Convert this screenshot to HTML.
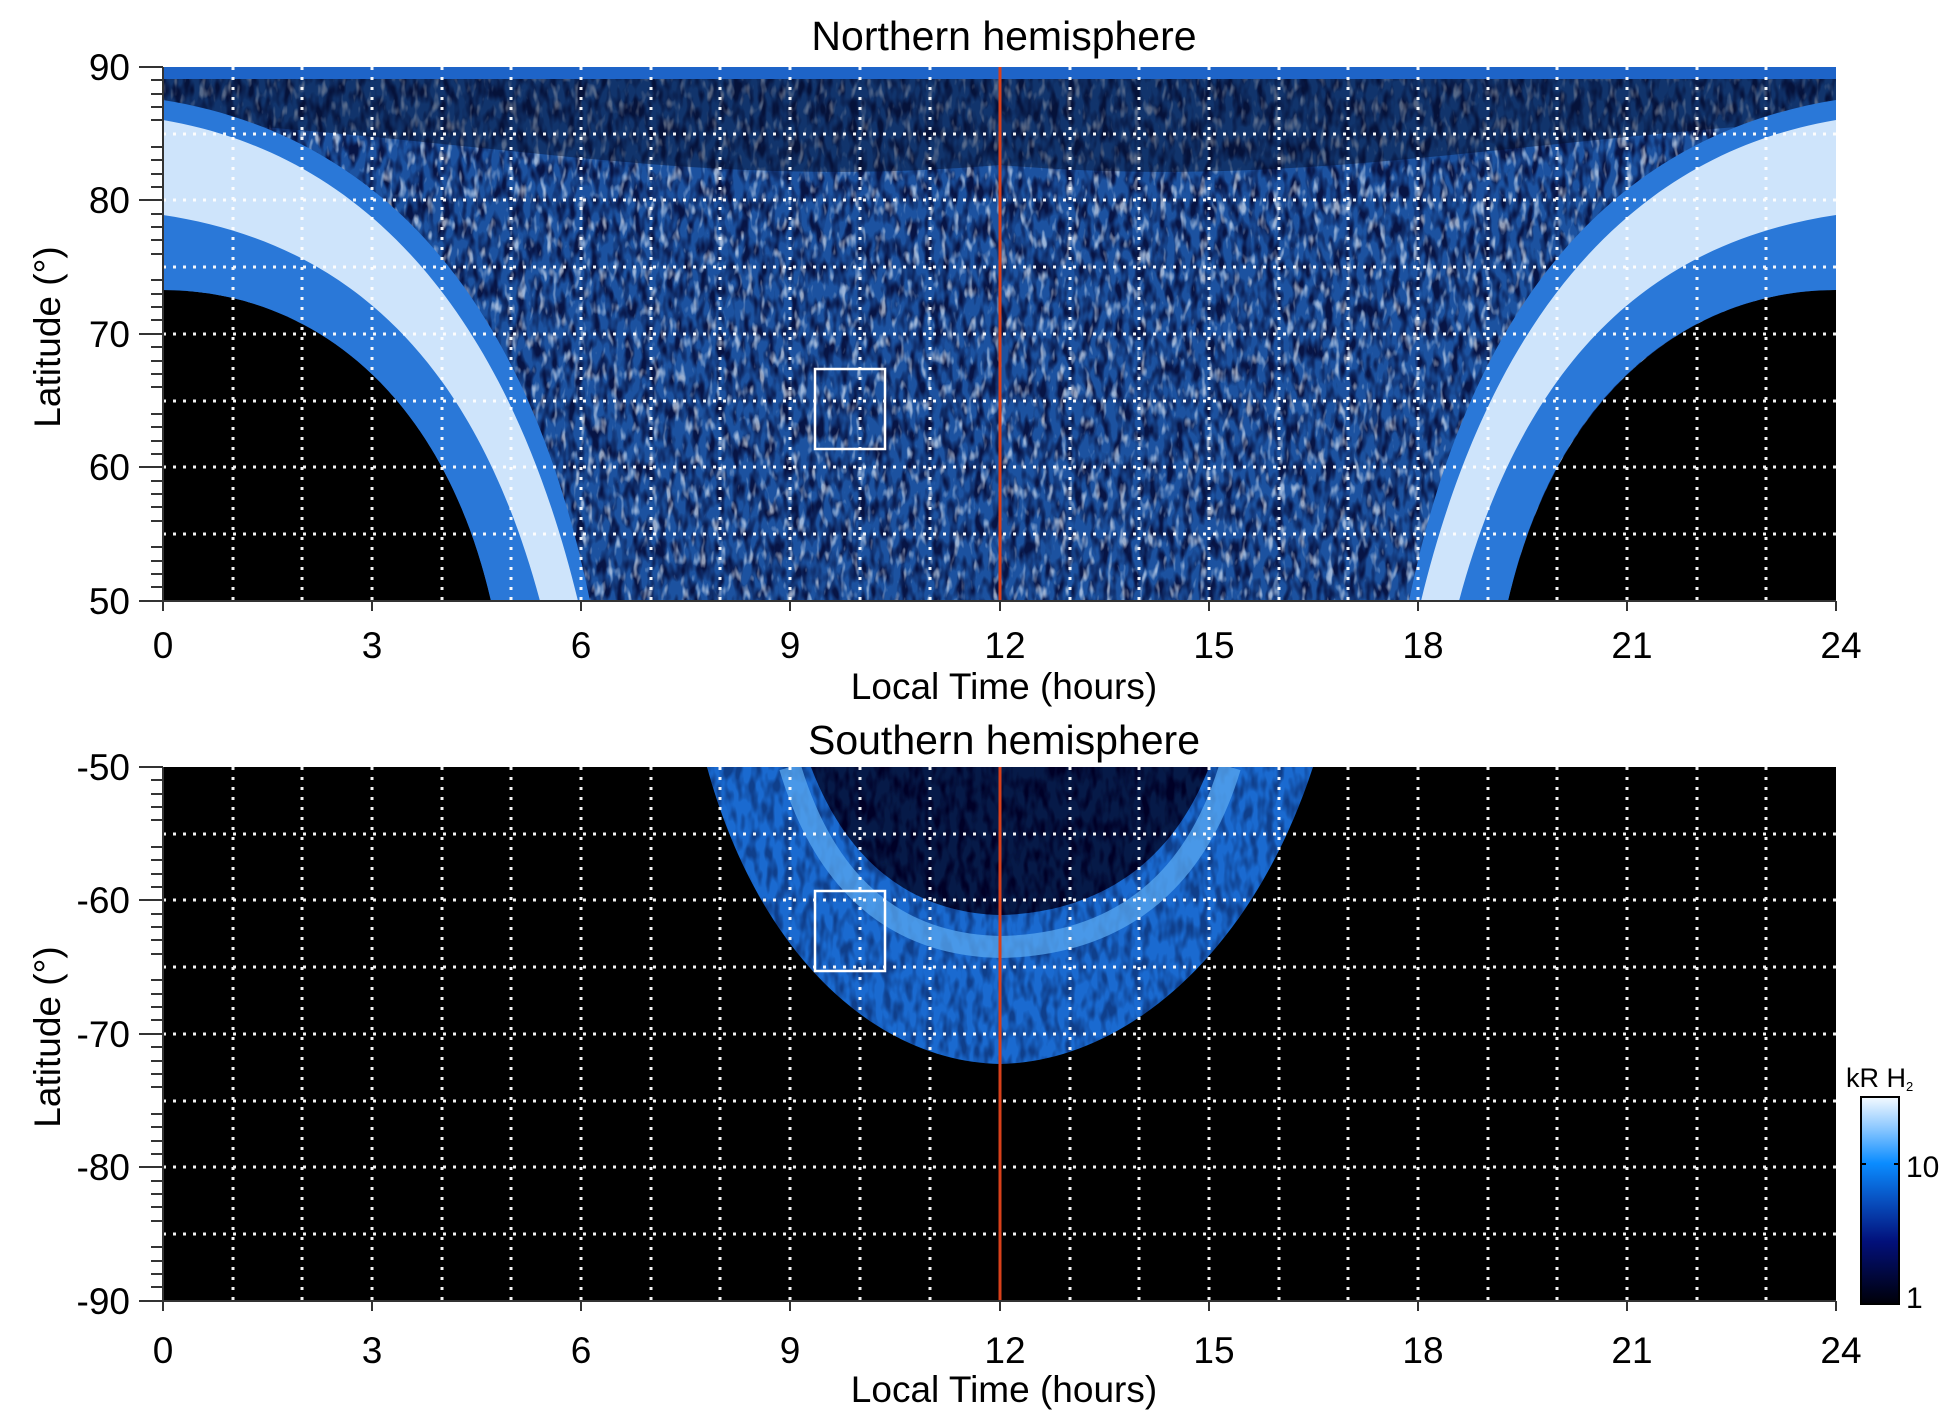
<!DOCTYPE html>
<html><head><meta charset="utf-8"><style>
html,body{margin:0;padding:0;background:#fff;}
svg{display:block;font-family:"Liberation Sans",sans-serif;}
</style></head><body>
<svg width="1950" height="1423" viewBox="0 0 1950 1423" xmlns="http://www.w3.org/2000/svg">
<defs>
<filter id="noise" x="0" y="0" width="100%" height="100%">
<feTurbulence type="fractalNoise" baseFrequency="0.12 0.05" numOctaves="2" seed="3" result="t"/>
<feColorMatrix in="t" type="matrix" values="0 0 0 0 0  0 0 0 0 0  0 0 0 0 0.02  0 0 0 3.2 -1.3" result="c"/>
<feComposite in="c" in2="SourceGraphic" operator="in"/>
</filter>
<filter id="noise2" x="0" y="0" width="100%" height="100%">
<feTurbulence type="fractalNoise" baseFrequency="0.15 0.06" numOctaves="2" seed="7" result="t"/>
<feColorMatrix in="t" type="matrix" values="0 0 0 0 0.85  0 0 0 0 0.92  0 0 0 0 1  0 0 0 4 -2.2" result="c"/>
<feComposite in="c" in2="SourceGraphic" operator="in"/>
</filter>
<linearGradient id="cb" x1="0" y1="0" x2="0" y2="1">
<stop offset="0" stop-color="#f4faff"/><stop offset="0.15" stop-color="#8cc8ff"/>
<stop offset="0.32" stop-color="#0a8cff"/><stop offset="0.5" stop-color="#0850c0"/>
<stop offset="0.7" stop-color="#02107a"/><stop offset="1" stop-color="#000008"/>
</linearGradient>
<clipPath id="cN"><rect x="163" y="67" width="1673" height="534"/></clipPath>
<clipPath id="cS"><rect x="163" y="767" width="1673" height="534"/></clipPath>
</defs>

<g clip-path="url(#cN)">
<rect x="163" y="67" width="1673" height="534" fill="#000"/>
<path d="M163,67 H1836 V290 C1700,290 1560,380 1508,601 H491 C440,380 300,290 163,290 Z" fill="#1c52a0"/>
<path d="M163,67 H1836 V290 C1700,290 1560,380 1508,601 H491 C440,380 300,290 163,290 Z" fill="#000" filter="url(#noise)" opacity="0.75"/>
<path d="M163,67 H1836 V290 C1700,290 1560,380 1508,601 H491 C440,380 300,290 163,290 Z" fill="#fff" filter="url(#noise2)" opacity="0.6"/>
<path d="M163,75 H1836 V120 C1500,140 1300,190 1000,165 C700,190 500,140 163,120 Z" fill="#04102c" opacity="0.45"/>
<rect x="163" y="67" width="1673" height="12" fill="#1e64c8"/>
<path d="M163,100 C350,130 520,260 590,601 L491,601 C440,380 300,290 163,290 Z" fill="#2a78d8"/>
<path d="M163,120 C340,150 500,280 578,601 L540,601 C470,340 330,240 163,215 Z" fill="#e0f0ff" opacity="0.9"/>
<path d="M1836,100 C1649,130 1479,260 1409,601 L1508,601 C1559,380 1699,290 1836,290 Z" fill="#2a78d8"/>
<path d="M1836,120 C1659,150 1499,280 1421,601 L1459,601 C1529,340 1669,240 1836,215 Z" fill="#e0f0ff" opacity="0.9"/>
</g>
<line x1="1000" y1="67" x2="1000" y2="601" stroke="#d8401a" stroke-width="3"/>
<rect x="815" y="369" width="70" height="80" fill="none" stroke="#fff" stroke-width="2.5"/>

<g clip-path="url(#cS)">
<rect x="163" y="767" width="1673" height="534" fill="#000"/>
<path d="M707,767 C760,960 880,1062 1000,1064 C1120,1062 1250,960 1313,767 Z" fill="#1a6ad0"/>
<path d="M707,767 C760,960 880,1062 1000,1064 C1120,1062 1250,960 1313,767 Z" fill="#000" filter="url(#noise)" opacity="0.4"/>
<path d="M790,767 C830,900 910,945 1000,947 C1100,945 1190,900 1230,767" stroke="#5aa8f0" stroke-width="22" fill="none" opacity="0.75"/>
<path d="M811,767 C850,870 920,913 1000,915 C1090,913 1170,870 1209,767 Z" fill="#061a48"/>
<path d="M811,767 C850,870 920,913 1000,915 C1090,913 1170,870 1209,767 Z" fill="#000" filter="url(#noise)"/>
</g>
<line x1="1000" y1="767" x2="1000" y2="1301" stroke="#d8401a" stroke-width="3"/>
<rect x="815" y="891" width="70" height="80" fill="none" stroke="#fff" stroke-width="2.5"/>

<g stroke="#fff" stroke-width="3" stroke-dasharray="3 7" opacity="0.95">
<path d="M233,67V601M302,67V601M372,67V601M442,67V601M511,67V601M581,67V601M651,67V601M720,67V601M790,67V601M860,67V601M930,67V601M1070,67V601M1139,67V601M1209,67V601M1279,67V601M1348,67V601M1418,67V601M1488,67V601M1557,67V601M1627,67V601M1697,67V601M1766,67V601"/>
<path d="M233,767V1301M302,767V1301M372,767V1301M442,767V1301M511,767V1301M581,767V1301M651,767V1301M720,767V1301M790,767V1301M860,767V1301M930,767V1301M1070,767V1301M1139,767V1301M1209,767V1301M1279,767V1301M1348,767V1301M1418,767V1301M1488,767V1301M1557,767V1301M1627,767V1301M1697,767V1301M1766,767V1301"/>
<path d="M163,134H1836M163,200H1836M163,267H1836M163,334H1836M163,401H1836M163,467H1836M163,534H1836"/>
<path d="M163,834H1836M163,900H1836M163,967H1836M163,1034H1836M163,1101H1836M163,1167H1836M163,1234H1836"/>
</g>

<g stroke="#333" stroke-width="2" fill="none">
<line x1="163" y1="67" x2="163" y2="601"/><line x1="163" y1="601" x2="1836" y2="601"/>
<line x1="163" y1="767" x2="163" y2="1301"/><line x1="163" y1="1301" x2="1836" y2="1301"/>
<path d="M139,67H163M139,200H163M139,334H163M139,467H163M139,601H163"/>
<path d="M139,767H163M139,900H163M139,1034H163M139,1167H163M139,1301H163"/>
<path d="M151,80H163M151,94H163M151,107H163M151,120H163M151,147H163M151,160H163M151,174H163M151,187H163M151,214H163M151,227H163M151,240H163M151,254H163M151,280H163M151,294H163M151,307H163M151,320H163M151,347H163M151,361H163M151,374H163M151,387H163M151,414H163M151,427H163M151,441H163M151,454H163M151,481H163M151,494H163M151,507H163M151,521H163M151,547H163M151,561H163M151,574H163M151,587H163"/>
<path d="M151,780H163M151,794H163M151,807H163M151,820H163M151,847H163M151,860H163M151,874H163M151,887H163M151,914H163M151,927H163M151,940H163M151,954H163M151,980H163M151,994H163M151,1007H163M151,1020H163M151,1047H163M151,1061H163M151,1074H163M151,1087H163M151,1114H163M151,1127H163M151,1141H163M151,1154H163M151,1181H163M151,1194H163M151,1207H163M151,1221H163M151,1247H163M151,1261H163M151,1274H163M151,1287H163"/>
<path d="M163,601v10M372,601v10M581,601v10M790,601v10M1000,601v10M1209,601v10M1418,601v10M1627,601v10M1836,601v10"/>
<path d="M163,1301v10M372,1301v10M581,1301v10M790,1301v10M1000,1301v10M1209,1301v10M1418,1301v10M1627,1301v10M1836,1301v10"/>
</g>

<g font-size="37" fill="#000">
<text x="1004" y="50" text-anchor="middle" font-size="41">Northern hemisphere</text>
<text x="1004" y="754" text-anchor="middle" font-size="41">Southern hemisphere</text>
<g text-anchor="end">
<text x="130" y="80">90</text><text x="130" y="213">80</text><text x="130" y="347">70</text><text x="130" y="480">60</text><text x="130" y="614">50</text>
<text x="130" y="780">-50</text><text x="130" y="913">-60</text><text x="130" y="1047">-70</text><text x="130" y="1180">-80</text><text x="130" y="1314">-90</text>
</g>
<g text-anchor="middle">
<text x="163" y="658">0</text><text x="372" y="658">3</text><text x="581" y="658">6</text><text x="790" y="658">9</text><text x="1005" y="658">12</text><text x="1214" y="658">15</text><text x="1423" y="658">18</text><text x="1632" y="658">21</text><text x="1841" y="658">24</text>
<text x="163" y="1363">0</text><text x="372" y="1363">3</text><text x="581" y="1363">6</text><text x="790" y="1363">9</text><text x="1005" y="1363">12</text><text x="1214" y="1363">15</text><text x="1423" y="1363">18</text><text x="1632" y="1363">21</text><text x="1841" y="1363">24</text>
<text x="1004" y="699">Local Time (hours)</text>
<text x="1004" y="1402">Local Time (hours)</text>
<text transform="translate(60,337) rotate(-90)">Latitude (°)</text>
<text transform="translate(60,1037) rotate(-90)">Latitude (°)</text>
</g>
</g>

<rect x="1861" y="1097" width="38" height="207" fill="url(#cb)" stroke="#000" stroke-width="2"/>
<path d="M1899,1164h-5M1861,1164h5" stroke="#000" stroke-width="2"/>
<text x="1906" y="1177" font-size="30">10</text>
<text x="1906" y="1308" font-size="30">1</text>
<text x="1846" y="1087" font-size="27">kR H<tspan font-size="13" dy="4">2</tspan></text>
</svg>
</body></html>
